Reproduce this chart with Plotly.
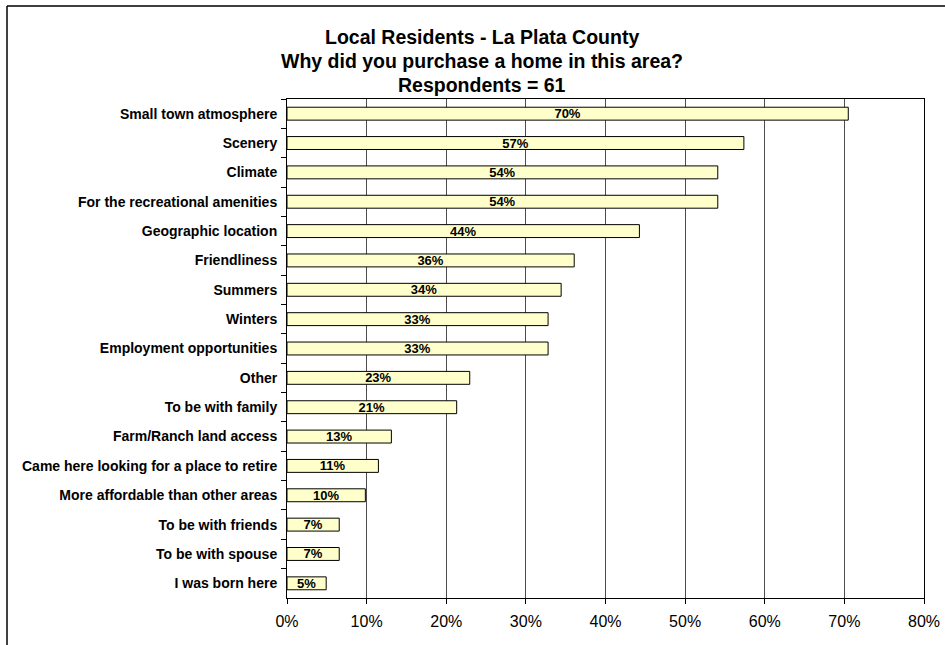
import plotly.graph_objects as go

categories = [
    "Small town atmosphere",
    "Scenery",
    "Climate",
    "For the recreational amenities",
    "Geographic location",
    "Friendliness",
    "Summers",
    "Winters",
    "Employment opportunities",
    "Other",
    "To be with family",
    "Farm/Ranch land access",
    "Came here looking for a place to retire",
    "More affordable than other areas",
    "To be with friends",
    "To be with spouse",
    "I was born here",
]
percent_values = [70.49, 57.38, 54.10, 54.10, 44.26, 36.07, 34.43, 32.79, 32.79,
                  22.95, 21.31, 13.11, 11.48, 9.84, 6.56, 6.56, 4.92]
x_tick_values = [0, 10, 20, 30, 40, 50, 60, 70, 80]
x_tick_labels = ["0%", "10%", "20%", "30%", "40%", "50%", "60%", "70%", "80%"]
title_lines = ["Local Residents - La Plata County",
               "Why did you purchase a home in this area?",
               "Respondents = 61"]

W, H = 945, 645
L, R, T, B = 287, 21, 99, 47
PW, PH = W - L - R, H - T - B
FONT = "Liberation Sans, Arial, sans-serif"

def px_x(p):
    return (p - L) / PW

def px_y(p):
    return (H - B - p) / PH

fig = go.Figure()
fig.add_trace(go.Bar(
    y=categories,
    x=percent_values,
    orientation="h",
    marker=dict(color="#FFFFCC", line=dict(color="#000000", width=1)),
    texttemplate="<b>%{x:.0f}%</b>",
    textposition="inside",
    insidetextanchor="middle",
    constraintext="none",
    textfont=dict(family=FONT, size=13, color="#000000"),
    hoverinfo="skip",
))

fig.update_layout(
    width=W, height=H,
    margin=dict(l=L, r=R, t=T, b=B, pad=0, autoexpand=False),
    paper_bgcolor="white",
    plot_bgcolor="white",
    showlegend=False,
    bargap=0.56,
    font=dict(family=FONT, color="#000000"),
    xaxis=dict(
        range=[0, 80],
        tickvals=x_tick_values,
        ticktext=x_tick_labels,
        showgrid=True, gridcolor="#4d4d4d", gridwidth=1,
        showline=True, linecolor="#000000", linewidth=1, mirror=True,
        ticks="outside", ticklen=5, tickcolor="#000000",
        tickfont=dict(size=16),
        ticklabelstandoff=4,
        zeroline=False, fixedrange=True, automargin=False,
    ),
    yaxis=dict(
        type="category",
        autorange="reversed",
        showline=True, linecolor="#000000", linewidth=1, mirror=True,
        ticks="outside", ticklen=5, tickcolor="#000000", tickson="boundaries",
        tickfont=dict(size=14, family=FONT, weight="bold"),
        ticklabelstandoff=6,
        showgrid=False, fixedrange=True, automargin=False,
    ),
)

for i, line in enumerate(title_lines):
    fig.add_annotation(
        text="<b>" + line + "</b>",
        xref="paper", yref="paper",
        x=px_x(482), y=px_y(37 + 24 * i),
        xanchor="center", yanchor="middle",
        showarrow=False,
        font=dict(size=19.5, family=FONT, color="#000000"),
    )

# outer chart frame (only top and left visible in view)
fig.add_shape(type="line", xref="paper", yref="paper",
              x0=px_x(7), x1=px_x(960), y0=px_y(6), y1=px_y(6),
              line=dict(color="#000000", width=1.5))
fig.add_shape(type="line", xref="paper", yref="paper",
              x0=px_x(7), x1=px_x(7), y0=px_y(6), y1=px_y(660),
              line=dict(color="#000000", width=1.5))

fig.write_html("out.html", config={"displayModeBar": False},
               post_script="document.body.style.margin='0px';")
